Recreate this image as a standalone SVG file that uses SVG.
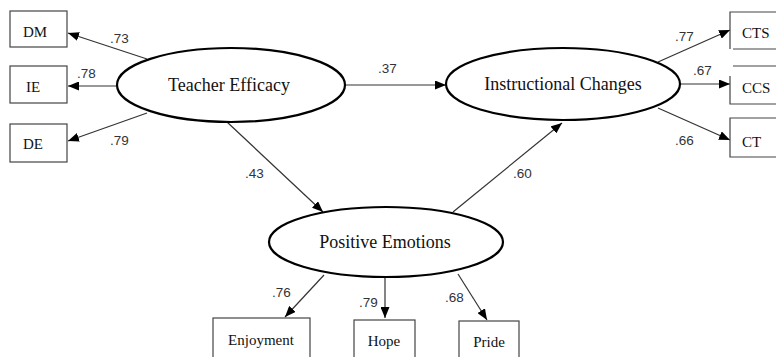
<svg xmlns="http://www.w3.org/2000/svg" width="776" height="357" viewBox="0 0 776 357">
<style>
.bg{fill:#fff}
.lat{fill:#fff;stroke:#000;stroke-width:2.2}
.box{fill:#fff;stroke:#444;stroke-width:1.2}
.open{fill:none;stroke:#444;stroke-width:1.2}
.lt{font-family:"Liberation Serif","Times New Roman",serif;font-size:18px;fill:#111;text-anchor:middle}
.bt{font-family:"Liberation Serif","Times New Roman",serif;font-size:15px;fill:#111}
.lb{font-family:"Liberation Sans",Arial,sans-serif;font-size:13.5px;fill:#333}
.con line{stroke:#333;stroke-width:1.2;marker-end:url(#ah)}
</style>
<defs>
<marker id="ah" markerWidth="11" markerHeight="9" refX="11" refY="4.5" orient="auto" markerUnits="userSpaceOnUse">
<path d="M0,0 L11,4.5 L0,9 z" fill="#000"/>
</marker>
</defs>
<rect class="bg" x="0" y="0" width="776" height="357"/>
<g id="connectors" class="con">
<line x1="147" y1="59" x2="68" y2="33"/>
<line x1="117" y1="86" x2="68" y2="86"/>
<line x1="147" y1="113" x2="68" y2="141"/>
<line x1="345" y1="85" x2="446" y2="85"/>
<line x1="227" y1="122" x2="323" y2="212"/>
<line x1="453" y1="212" x2="562" y2="123"/>
<line x1="658" y1="62" x2="730" y2="30"/>
<line x1="681" y1="84" x2="730" y2="84"/>
<line x1="658" y1="108" x2="730" y2="140"/>
<line x1="324" y1="275" x2="285" y2="317"/>
<line x1="385" y1="277" x2="385" y2="318"/>
<line x1="458" y1="274" x2="487" y2="320"/>
</g>
<g id="labels">
<text class="lb" x="110" y="43">.73</text>
<text class="lb" x="77" y="78">.78</text>
<text class="lb" x="110" y="145">.79</text>
<text class="lb" x="378" y="73">.37</text>
<text class="lb" x="245" y="178">.43</text>
<text class="lb" x="513" y="178">.60</text>
<text class="lb" x="675" y="41">.77</text>
<text class="lb" x="693" y="75">.67</text>
<text class="lb" x="675" y="145">.66</text>
<text class="lb" x="272" y="297">.76</text>
<text class="lb" x="359" y="307">.79</text>
<text class="lb" x="445" y="302">.68</text>
</g>
<g id="teacher-efficacy">
<ellipse class="lat" cx="231" cy="85" rx="114" ry="37"/>
<text class="lt" x="229" y="91">Teacher Efficacy</text>
</g>
<g id="instructional-changes">
<ellipse class="lat" cx="563" cy="84" rx="117" ry="36"/>
<text class="lt" x="563" y="90">Instructional Changes</text>
</g>
<g id="positive-emotions">
<ellipse class="lat" cx="386" cy="242" rx="117" ry="35"/>
<text class="lt" x="385" y="248">Positive Emotions</text>
</g>
<g id="dm"><rect class="box" x="10" y="11" width="57" height="36"/><text class="bt" x="23" y="37">DM</text></g>
<g id="ie"><rect class="box" x="10" y="66" width="57" height="37"/><text class="bt" x="26" y="92">IE</text></g>
<g id="de"><rect class="box" x="10" y="124" width="57" height="38"/><text class="bt" x="23" y="149">DE</text></g>
<g id="cts"><path class="open" d="M777,12 H730 V49 M733,49 H777"/><text class="bt" x="742" y="38">CTS</text></g>
<g id="ccs"><path class="open" d="M733,66 H777 M730,76 V104 H777"/><text class="bt" x="742" y="93">CCS</text></g>
<g id="ct"><path class="open" d="M777,118 H730 V157 H777"/><text class="bt" x="742" y="147">CT</text></g>
<g id="enjoyment"><rect class="box" x="213" y="318" width="97" height="45"/><text class="bt" x="261" y="345" text-anchor="middle">Enjoyment</text></g>
<g id="hope"><rect class="box" x="354" y="320" width="61" height="45"/><text class="bt" x="384" y="346" text-anchor="middle">Hope</text></g>
<g id="pride"><rect class="box" x="459" y="321" width="60" height="45"/><text class="bt" x="489" y="347" text-anchor="middle">Pride</text></g>
</svg>
